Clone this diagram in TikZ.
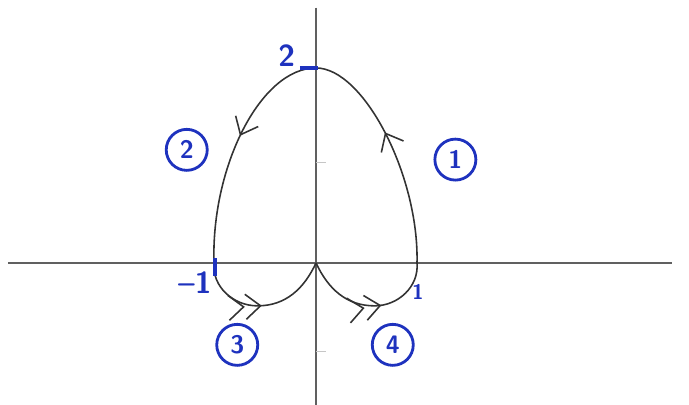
\documentclass[tikz,border=0pt]{standalone}
\usetikzlibrary{arrows.meta, decorations.markings}
\definecolor{pen}{RGB}{30,50,190}

\begin{document}
\begin{tikzpicture}[
      x=2.02cm, y=1.95cm,
      >={Straight Barb[length=3mm, width=5mm]},
      axis/.style={draw=gray!75!black, line width=0.8pt},
      curve/.style={draw=black!80, line width=0.9pt},
      mid/.style={postaction={decorate}, decoration={markings, mark=at position #1 with {\arrow{>}}}},
      dbl/.style={postaction={decorate}, decoration={markings, mark=at position #1 with {\arrow{>>}}}},
      num/.style={circle, draw=pen, line width=1.6pt, text=pen, minimum size=0.82cm, inner sep=0pt, font=\sffamily\bfseries\Large},
      val/.style={text=pen, inner sep=1pt, font=\sffamily\bfseries\LARGE},
      mark pen/.style={draw=pen, line width=2.2pt},
      tickmark/.style={draw=gray!45, line width=0.7pt}
    ]
    \useasboundingbox (-3.129,-1.456) rectangle (3.693,2.697);

    % ---- axes ----
    \coordinate (O)  at (0,0);
    \coordinate (xl) at (-3.05,0);
    \coordinate (xr) at (3.52,0);
    \coordinate (yt) at (0,2.62);
    \coordinate (yb) at (0,-1.456);
    \draw[axis] (xl) -- (xr);
    \draw[axis] (yt) -- (yb);
    \draw[tickmark] (0,1.03) -- ++(0.1,0);
    \draw[tickmark] (0,-0.91) -- ++(0.1,0);

    % ---- curve points ----
    \coordinate (T)  at (0,2);
    \coordinate (R)  at (1.0,0);
    \coordinate (L)  at (-1.01,0);
    \coordinate (B4) at (0.58,-0.44);
    \coordinate (B3) at (-0.58,-0.44);

    % ---- the four pieces ----
    \draw[curve, dbl=0.58] (O) to[out=-65,in=180] (B4) to[out=0,in=-85] (R);
    \draw[curve, mid=0.58] (R) .. controls (1.02,0.9) and (0.47,2) .. (T);
    \draw[curve, mid=0.45] (T) .. controls (-0.55,2) and (-1.04,0.98) .. (L);
    \draw[curve, dbl=0.5] (L) to[out=-95,in=180] (B3) to[out=0,in=-115] (O);

    % ---- marks on the axes ----
    \draw[mark pen] (-0.16,2) -- (0.02,2);
    \draw[mark pen] (-1.0,0.05) -- (-1.0,-0.13);

    % ---- labels ----
    \node[val] (v2)  at (-0.29,2.13) {2};
    \node[val] (vm1) at (-1.2,-0.2)  {--1};
    \node[val, font=\sffamily\bfseries\large] (v1) at (1.01,-0.3) {1};

    \node[num] (n1) at (1.38,1.06)   {1};
    \node[num] (n2) at (-1.28,1.16)  {2};
    \node[num] (n3) at (-0.78,-0.84) {3};
    \node[num] (n4) at (0.76,-0.84)  {4};

    \end{tikzpicture}
\end{document}
